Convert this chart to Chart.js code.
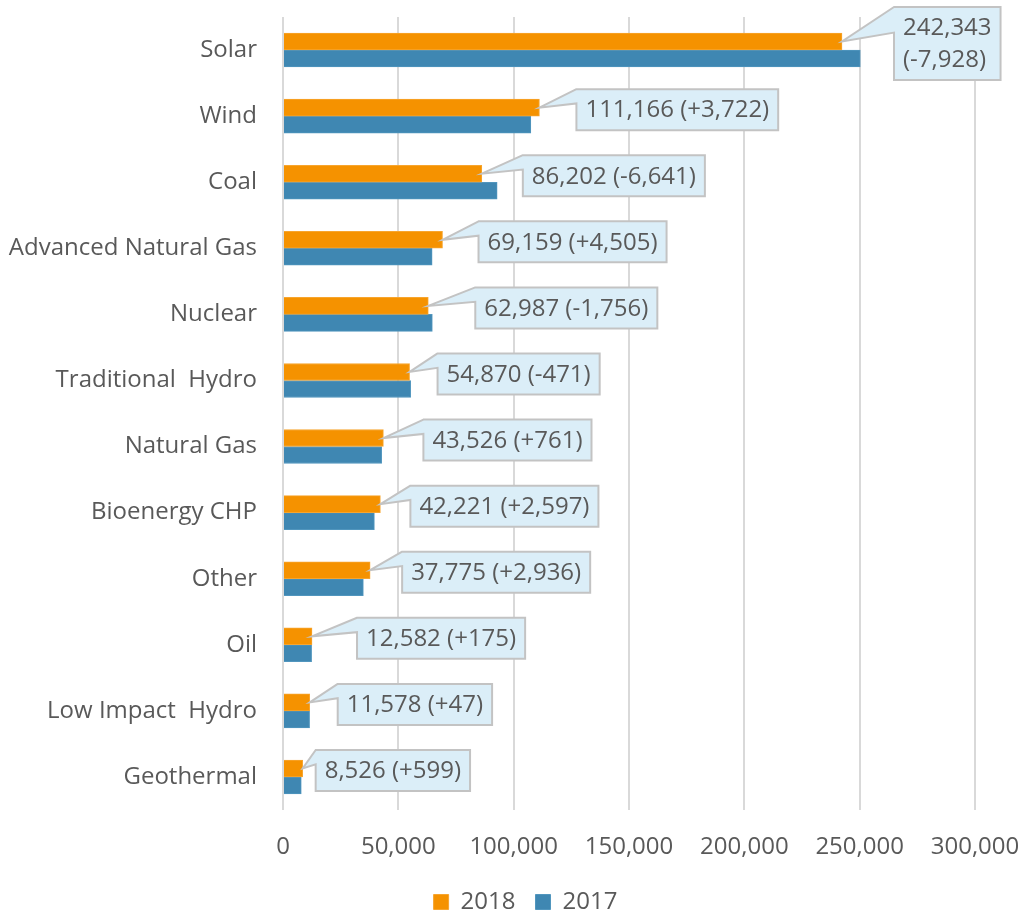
<!DOCTYPE html>
<html>
<head>
<meta charset="utf-8">
<script src="https://cdn.jsdelivr.net/npm/chart.js@4/dist/chart.umd.min.js"></script>
<style>
  html, body { margin: 0; padding: 0; background: #ffffff; overflow: hidden; }
  #wrap { width: 1023px; height: 913px; position: relative; }
</style>
</head>
<body>
<div id="wrap"><canvas id="chart"></canvas></div>
<script>
// Generation by source, 2018 vs 2017
const categories = ['Solar', 'Wind', 'Coal', 'Advanced Natural Gas', 'Nuclear', 'Traditional  Hydro',
  'Natural Gas', 'Bioenergy CHP', 'Other', 'Oil', 'Low Impact  Hydro', 'Geothermal'];
const values2018 = [242343, 111166, 86202, 69159, 62987, 54870, 43526, 42221, 37775, 12582, 11578, 8526];
const values2017 = [250271, 107444, 92843, 64654, 64743, 55341, 42765, 39624, 34839, 12407, 11531, 7927];
const change = [-7928, 3722, -6641, 4505, -1756, -471, 761, 2597, 2936, 175, 47, 599];
const xTicks = [0, 50000, 100000, 150000, 200000, 250000, 300000];
const seriesNames = ['2018', '2017'];

// Horizontal gap between each bar end and its callout box
const calloutGap = [52, 37, 41, 36, 47, 28, 40, 30, 32, 45, 28, 13];

const FONT = '"Open Sans", "Noto Sans", sans-serif';
const FONT_SIZE = 24;
const TEXT = '#595959';
const fmt = v => v.toLocaleString('en-US');
const signed = v => (v > 0 ? '+' : '-') + fmt(Math.abs(v));

const calloutPlugin = {
  id: 'callouts',
  afterDatasetsDraw(chart) {
    const ctx = chart.ctx;
    const meta = chart.getDatasetMeta(0);
    ctx.save();
    ctx.font = FONT_SIZE + 'px ' + FONT;
    ctx.textBaseline = 'middle';
    ctx.textAlign = 'left';
    meta.data.forEach((bar, i) => {
      const padX = 9;
      let lines = [fmt(values2018[i]) + ' (' + signed(change[i]) + ')'];
      const left = bar.x + calloutGap[i];
      let w = ctx.measureText(lines[0]).width + 2 * padX;
      if (left + w > chart.width - 4) {
        lines = [fmt(values2018[i]), '(' + signed(change[i]) + ')'];
        w = Math.max(...lines.map(t => ctx.measureText(t).width)) + 2 * padX;
      }
      const lh = 32;
      const h = lines.length * lh + 9;
      const cy = bar.y + 2;
      const top = cy - h / 2;
      const right = left + w;
      const bottom = top + h;

      ctx.beginPath();
      ctx.moveTo(left, top);
      ctx.lineTo(bar.x, bar.y);
      ctx.lineTo(left, top + h * 0.35);
      ctx.lineTo(left, bottom);
      ctx.lineTo(right, bottom);
      ctx.lineTo(right, top);
      ctx.closePath();
      ctx.fillStyle = '#DBEEF8';
      ctx.fill();
      ctx.lineWidth = 2;
      ctx.strokeStyle = '#C3C3C3';
      ctx.lineJoin = 'miter';
      ctx.stroke();

      ctx.fillStyle = TEXT;
      lines.forEach((t, k) => {
        const y = top + 4.5 + lh * (k + 0.5) + 1;
        ctx.fillText(t, left + padX, y);
      });
    });
    ctx.restore();
  }
};

// Nudge the legend row down into the bottom margin and slightly right
const legendShift = {
  id: 'legendShift',
  afterLayout(chart) {
    const l = chart.legend;
    if (l) { l.top += 11; l.bottom += 11; l.left += 38; l.right += 38; }
  }
};

new Chart(document.getElementById('chart'), {
  type: 'bar',
  data: {
    labels: categories,
    datasets: [
      {
        label: seriesNames[0],
        data: values2018,
        backgroundColor: '#F59200',
        borderColor: '#F7A52E',
        borderWidth: 1,
        barThickness: 17,
      },
      {
        label: seriesNames[1],
        data: values2017,
        backgroundColor: '#3F87B2',
        borderColor: '#5196BE',
        borderWidth: 1,
        barThickness: 17,
      }
    ]
  },
  options: {
    indexAxis: 'y',
    responsive: true,
    maintainAspectRatio: false,
    animation: false,
    layout: { padding: { top: 17, right: 48, left: 0, bottom: 0 } },
    scales: {
      x: {
        min: 0,
        max: 300000,
        afterBuildTicks(scale) { scale.ticks = xTicks.map(v => ({ value: v })); },
        afterFit(scale) {
          scale.height = 49;
          scale.paddingLeft = 0;
          scale.paddingRight = 0;
        },
        grid: { color: '#D9D9D9', lineWidth: 2, drawTicks: false },
        border: { display: false },
        ticks: {
          padding: 23,
          color: TEXT,
          font: { family: FONT, size: FONT_SIZE },
          callback: v => fmt(v)
        }
      },
      y: {
        afterFit(scale) {
          scale.width = 283;
          scale.paddingTop = 0;
          scale.paddingBottom = 0;
        },
        grid: { display: false, drawTicks: false },
        border: { display: false },
        ticks: {
          padding: 26,
          color: TEXT,
          font: { family: FONT, size: FONT_SIZE }
        }
      }
    },
    plugins: {
      legend: {
        position: 'bottom',
        labels: {
          boxWidth: 15,
          boxHeight: 15,
          padding: 20,
          color: TEXT,
          font: { family: FONT, size: FONT_SIZE }
        }
      },
      tooltip: { enabled: false }
    }
  },
  plugins: [calloutPlugin, legendShift]
});
</script>
</body>
</html>
